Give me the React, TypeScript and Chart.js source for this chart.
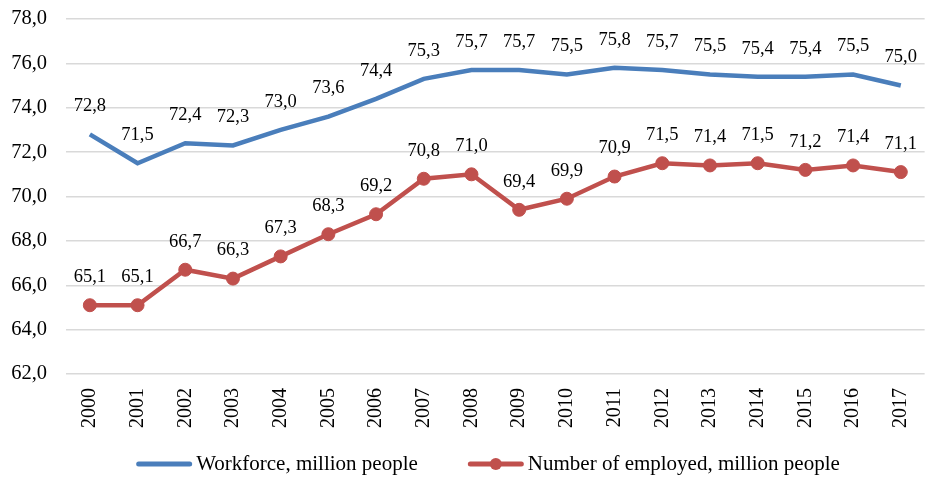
import React, { useEffect, useRef } from "react";
import { Chart, registerables } from "chart.js";

Chart.register(...registerables);

const years = ["2000","2001","2002","2003","2004","2005","2006","2007","2008","2009","2010","2011","2012","2013","2014","2015","2016","2017"];
const workforce = [72.8,71.5,72.4,72.3,73.0,73.6,74.4,75.3,75.7,75.7,75.5,75.8,75.7,75.5,75.4,75.4,75.5,75.0];
const employed = [65.1,65.1,66.7,66.3,67.3,68.3,69.2,70.8,71.0,69.4,69.9,70.9,71.5,71.4,71.5,71.2,71.4,71.1];
const seriesNames = ["Workforce, million people", "Number of employed, million people"];
const yMin = 62;
const yMax = 78;
const yStep = 2;

const FONT = "'Liberation Serif', 'Times New Roman', serif";
const BLUE = "#4a7ebb";
const RED = "#c0504d";

const fmt = (v: number) => v.toFixed(1).replace(".", ",");

const dataLabelPlugin = {
  id: "dataLabels",
  afterDatasetsDraw(chart: any) {
    const ctx = chart.ctx;
    ctx.save();
    ctx.font = `18.5px ${FONT}`;
    ctx.fillStyle = "#000";
    ctx.textAlign = "center";
    ctx.textBaseline = "middle";
    chart.data.datasets.forEach((ds: any, i: number) => {
      const meta = chart.getDatasetMeta(i);
      meta.data.forEach((pt: any, j: number) => {
        ctx.fillText(fmt(ds.data[j]), pt.x, pt.y - 28);
      });
    });
    ctx.restore();
  },
};

const legendPlugin = {
  id: "customLegend",
  afterDraw(chart: any) {
    const ctx = chart.ctx;
    ctx.save();
    ctx.font = `21px ${FONT}`;
    ctx.textBaseline = "middle";
    ctx.textAlign = "left";
    const y = 464;
    const lineW = 56;
    const gapText = 4;
    const gapItem = 50;
    const ds = chart.data.datasets;
    const w0 = ctx.measureText(ds[0].label).width;
    const w1 = ctx.measureText(ds[1].label).width;
    const total = lineW + gapText + w0 + gapItem + lineW + gapText + w1;
    let x = 488 - total / 2;
    ds.forEach((d: any, i: number) => {
      ctx.strokeStyle = d.borderColor;
      ctx.lineWidth = 5;
      ctx.lineCap = "round";
      ctx.beginPath();
      ctx.moveTo(x + 2.5, y);
      ctx.lineTo(x + lineW - 2.5, y);
      ctx.stroke();
      if (d.pointRadius > 0) {
        ctx.fillStyle = d.pointBackgroundColor;
        ctx.beginPath();
        ctx.arc(x + lineW / 2, y, 6, 0, Math.PI * 2);
        ctx.fill();
      }
      ctx.fillStyle = "#000";
      ctx.fillText(d.label, x + lineW + gapText, y);
      x += lineW + gapText + (i === 0 ? w0 : w1) + gapItem;
    });
    ctx.restore();
  },
};

export default function App() {
  const ref = useRef<HTMLCanvasElement | null>(null);
  useEffect(() => {
    document.body.style.margin = "0";
    if (!ref.current) return;
    const chart = new Chart(ref.current, {
      type: "line",
      data: {
        labels: years,
        datasets: [
          {
            label: seriesNames[0],
            data: workforce,
            borderColor: BLUE,
            backgroundColor: BLUE,
            borderWidth: 4.5,
            pointRadius: 0,
            pointHoverRadius: 0,
            tension: 0,
          },
          {
            label: seriesNames[1],
            data: employed,
            borderColor: RED,
            backgroundColor: RED,
            pointBackgroundColor: RED,
            pointBorderColor: RED,
            borderWidth: 4.5,
            pointRadius: 6.5,
            pointBorderWidth: 1,
            tension: 0,
          },
        ],
      },
      options: {
        responsive: false,
        animation: false,
        maintainAspectRatio: false,
        layout: { padding: { top: 19, right: 0, bottom: 43, left: 0 } },
        plugins: {
          legend: { display: false },
          tooltip: { enabled: false },
        },
        scales: {
          x: {
            offset: true,
            grid: { display: false, drawTicks: false },
            border: { display: false },
            ticks: {
              minRotation: 90,
              maxRotation: 90,
              padding: 14,
              color: "#000",
              font: { family: FONT, size: 20 },
            },
            afterFit: (s: any) => { s.height = 60; },
          },
          y: {
            min: yMin,
            max: yMax,
            grid: { color: "#d9d9d9", lineWidth: 1.5, drawTicks: true, tickLength: 19, tickColor: "rgba(0,0,0,0)" },
            border: { display: false },
            ticks: {
              stepSize: yStep,
              padding: 0,
              color: "#000",
              font: { family: FONT, size: 20.5 },
              callback: (v: any) => fmt(Number(v)),
            },
            afterFit: (s: any) => { s.width = 66; },
          },
        },
      },
      plugins: [dataLabelPlugin, legendPlugin],
    });
    return () => chart.destroy();
  }, []);
  return (
    <div style={{ width: 939, height: 477 }}>
      <canvas ref={ref} width={939} height={477} style={{ display: "block" }} />
    </div>
  );
}
